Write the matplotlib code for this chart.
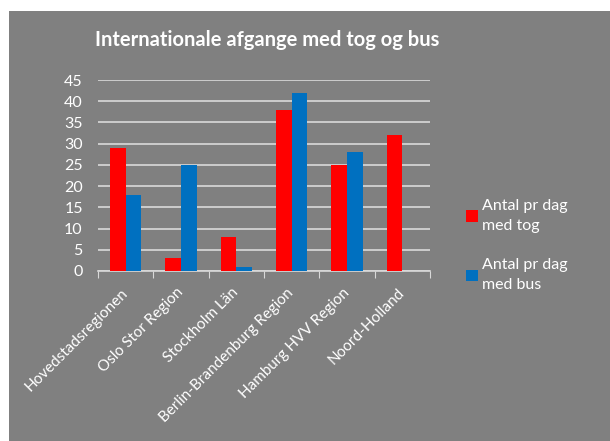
import matplotlib
matplotlib.use("Agg")
import matplotlib.pyplot as plt
import numpy as np
from matplotlib.patches import Rectangle

categories = ["Hovedstadsregionen", "Oslo Stor Region", "Stockholm Län",
              "Berlin-Brandenburg Region", "Hamburg HVV Region", "Noord-Holland"]
tog = [29, 3, 8, 38, 25, 32]
bus = [18, 25, 1, 42, 28, 0]
series_names = ["Antal pr dag\nmed tog", "Antal pr dag\nmed bus"]
yticks = [0, 5, 10, 15, 20, 25, 30, 35, 40, 45]

FONT = ["Lato", "DejaVu Sans"]
plt.rcParams['font.family'] = FONT
BG = "#808080"
W = "white"

fig = plt.figure(figsize=(6.10, 4.41), dpi=100)
fig.patch.set_facecolor("white")
bg = Rectangle((9/610, 0), 1 - 9/610, 1 - 11/441, transform=fig.transFigure,
               facecolor=BG, edgecolor="none", zorder=-10)
fig.patches.append(bg)

ax = fig.add_axes([98/610, 1 - 271/441, (430 - 98)/610, (271 - 80)/441])
ax.set_zorder(5)
ax.patch.set_alpha(0)

x = np.arange(len(categories))
w = 0.285
ax.bar(x - w/2, tog, w, color="#ff0000", label=series_names[0], zorder=3)
ax.bar(x + w/2, bus, w, color="#0070c0", label=series_names[1], zorder=3)

ax.set_xlim(-0.5, len(categories) - 0.5)
ax.set_ylim(0, 45)
ax.set_yticks(yticks)
ax.set_yticklabels([str(v) for v in yticks])
ax.yaxis.grid(True, color="#d9d9d9", linewidth=1.2, zorder=1)
ax.set_axisbelow(True)
ax.tick_params(axis="y", length=0, pad=11, colors=W, labelsize=11.5)

ax.set_xticks(np.arange(len(categories) + 1) - 0.5, minor=False)
ax.set_xticklabels([])
ax.tick_params(axis="x", which="major", length=5, color="#d9d9d9", direction="out")
ax.set_xticks(x, minor=True)
ax.set_xticklabels(categories, minor=True, rotation=45, ha="right", va="center",
                   rotation_mode="anchor", color=W, fontsize=11)
ax.tick_params(axis="x", which="minor", length=0, pad=14)

for s in ["top", "right", "left"]:
    ax.spines[s].set_visible(False)
ax.spines["bottom"].set_color("#d9d9d9")
ax.spines["bottom"].set_linewidth(1.2)

fig.text(267/610, 1 - 40/441, "Internationale afgange med tog og bus", ha="center", va="center",
         color=W, fontsize=14.5, fontweight="bold")

leg = fig.legend(loc="upper left", bbox_to_anchor=(452/610, 1 - 185/441), frameon=False,
                 fontsize=11.5, labelcolor=W, handlelength=0.7, handleheight=0.7,
                 handletextpad=0.3, labelspacing=1.6)
for t in leg.get_texts():
    t.set_linespacing(1.5)

fig.savefig("out.png", dpi=100, facecolor=fig.get_facecolor())
